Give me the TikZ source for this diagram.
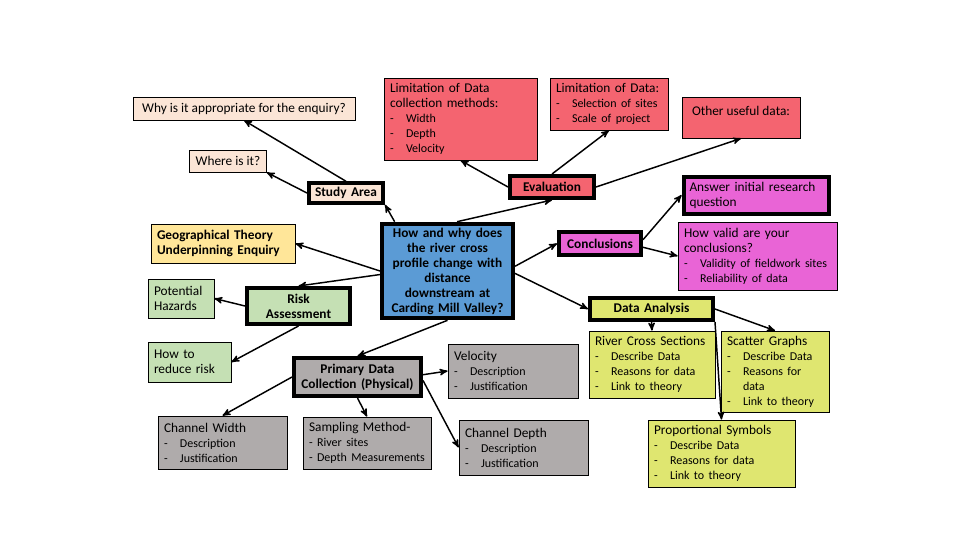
\documentclass[tikz,border=0pt]{standalone}
\usepackage{fontspec}
\setmainfont{Carlito}
\usetikzlibrary{
        arrows,
        positioning
    }
\definecolor{peach}{RGB}{251,229,214}
\definecolor{salmon}{RGB}{244,100,112}
\definecolor{orchid}{RGB}{233,100,214}
\definecolor{qblue}{RGB}{91,155,213}
\definecolor{sand}{RGB}{255,230,153}
\definecolor{sage}{RGB}{197,224,180}
\definecolor{stone}{RGB}{175,171,171}
\definecolor{lime}{RGB}{223,230,112}
\newcommand{\itm}{\makebox[12pt][l]{-}}
\newcommand{\bulsize}{\fontsize{9}{11.25}\selectfont}
\tikzset{>=stealth',auto}
\tikzset{
    box/.style 2 args={draw,line width=0.6pt,
        minimum width=#1*0.75pt,minimum height=#2*0.75pt,
        text width=#1*0.75pt-9pt,inner xsep=4.5pt,inner ysep=2pt,
        align=left,font=\fontsize{10}{11.25}\selectfont},
    key/.style 2 args={draw,line width=3pt,
        minimum width=#1*0.75pt-3pt,minimum height=#2*0.75pt-3pt,
        text width=#1*0.75pt-9pt,inner sep=3pt,
        align=center,font=\fontsize{10}{11.25}\selectfont\bfseries},
    link/.style={->,line width=1.1pt}
}

\begin{document}
\begin{tikzpicture}[x=0.75pt,y=-0.75pt]
\useasboundingbox (0,0) rectangle (960,540);
    % top left: study area
    \node[box={222}{23},fill=peach,text width={}] (why) at (244,108.5) {Why is it appropriate for the enquiry?};
    \node[box={74}{22},fill=peach,text width={}] (where) at (228,161) {Where is it?};
    \node[key={78}{22},fill=peach] (study) at (346,193) {Study Area};
    % top: evaluation
    \node[box={153}{82},fill=salmon] (limcoll) at (460.5,119) {Limitation of Data\\collection methods:\\\bulsize\itm Width\\\itm Depth\\\itm Velocity};
    \node[box={118}{52},fill=salmon] (limsel) at (609,104) {Limitation of Data:\\\bulsize\itm Selection of sites\\\itm Scale of project};
    \node[box={118}{41},fill=salmon,text width={},text depth=10pt] (other) at (741,117.5) {Other useful data:};
    \node[key={88}{26},fill=salmon] (eval) at (552,187) {Evaluation};
    % right: conclusions
    \node[box={145}{37},fill=orchid,line width=3pt] (answer) at (756,195) {Answer initial research\\question};
    \node[box={159}{68},fill=orchid] (valid) at (757.5,256) {How valid are your\\conclusions?\\\bulsize\itm Validity of fieldwork sites\\\itm Reliability of data};
    \node[key={86}{27},fill=orchid] (concl) at (600,243.5) {Conclusions};
    % centre
    \node[key={135}{98},fill=qblue] (central) at (447.5,271) {How and why does\\the river cross\\profile change with\\distance\\downstream at\\Carding Mill Valley?};
    % left: theory and risk
    \node[box={144}{39},fill=sand,font=\fontsize{10}{11.25}\selectfont\bfseries] (theory) at (223,243.5) {Geographical Theory\\Underpinning Enquiry};
    \node[box={66}{39},fill=sage] (hazards) at (181,298.5) {Potential\\Hazards};
    \node[key={107}{40},fill=sage] (risk) at (298.5,306) {Risk\\Assessment};
    \node[box={83}{40},fill=sage] (reduce) at (189.5,362) {How to\\reduce risk};
    % bottom: data collection
    \node[key={131}{42},fill=stone] (primary) at (357.5,377) {Primary Data\\Collection (Physical)};
    \node[box={130}{54},fill=stone] (velocity) at (513,371) {Velocity\\\bulsize\itm Description\\\itm Justification};
    \node[box={129}{53},fill=stone] (width) at (222.5,442.5) {Channel Width\\\bulsize\itm Description\\\itm Justification};
    \node[box={128}{52},fill=stone] (sampling) at (367,443) {Sampling Method-\\\bulsize- River sites\\- Depth Measurements};
    \node[box={129}{55},fill=stone] (depth) at (523.5,447.5) {Channel Depth\\\bulsize\itm Description\\\itm Justification};
    % bottom right: data analysis
    \node[key={127}{26},fill=lime] (analysis) at (651.5,309) {Data Analysis};
    \node[box={126}{67},fill=lime] (rcs) at (652,364.5) {River Cross Sections\\\bulsize\itm Describe Data\\\itm Reasons for data\\\itm Link to theory};
    \node[box={108}{81},fill=lime] (scatter) at (775,371.5) {Scatter Graphs\\\bulsize\itm Describe Data\\\itm Reasons for\\\hspace*{12pt}data\\\itm Link to theory};
    \node[box={147}{67},fill=lime] (prop) at (721.5,453.5) {Proportional Symbols\\\bulsize\itm Describe Data\\\itm Reasons for data\\\itm Link to theory};

    \path[link]
        (central.137) edge (study.south east)
        (study.north) edge (why.south)
        (study.west) edge (where.south east)
        (central.79) edge (eval.south)
        (eval.west) edge (limcoll.south)
        (eval.north) edge (limsel.south)
        (eval.east) edge (other.south)
        (central.4) edge (concl.west)
        (concl.5) edge (answer.west)
        (concl.-5) edge (valid.west)
        (central.-2) edge (analysis.west)
        (analysis.south) edge (rcs.north)
        (analysis.east) edge (scatter.north)
        (analysis.south east) edge (prop.north)
        (central.west) edge (theory.east)
        (central.183) edge (risk.north)
        (risk.west) edge (hazards.east)
        (risk.south) edge (reduce.east)
        (central.south) edge (primary.north)
        (primary.2) edge (velocity.west)
        (primary.west) edge (width.north)
        (primary.south) edge (sampling.north)
        (primary.-3) edge (depth.west)
        ;
\end{tikzpicture}
\end{document}
